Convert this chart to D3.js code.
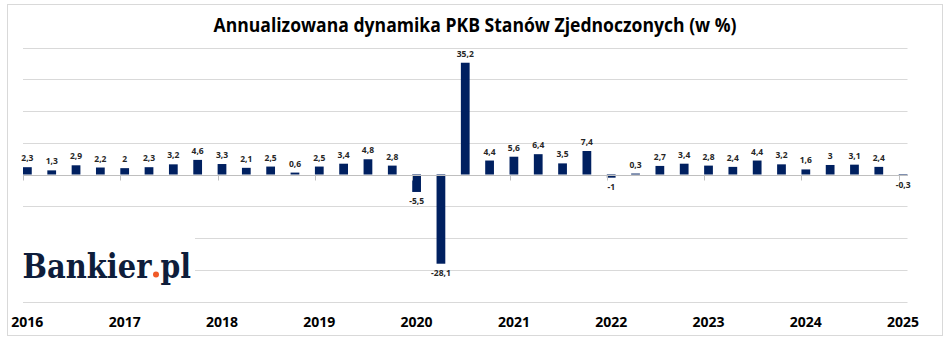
<!DOCTYPE html>
<html><head><meta charset="utf-8">
<script src="https://cdn.jsdelivr.net/npm/d3@7"></script>
<style>html,body{margin:0;padding:0;background:#fff;}svg{display:block;}</style>
</head><body>
<script>
const title = "Annualizowana dynamika PKB Stanów Zjednoczonych (w %)";
const years = ["2016","2017","2018","2019","2020","2021","2022","2023","2024","2025"];
const quarterNames = ["Q1","Q2","Q3","Q4"];
const values = [2.3,1.3,2.9,2.2, 2,2.3,3.2,4.6, 3.3,2.1,2.5,0.6, 2.5,3.4,4.8,2.8,
                -5.5,-28.1,35.2,4.4, 5.6,6.4,3.5,7.4, -1,0.3,2.7,3.4, 2.8,2.4,4.4,3.2,
                1.6,3,3.1,2.4, -0.3];
const gridTicks = [-40,-30,-20,-10,10,20,30,40];
const categories = values.map((v,i)=> years[Math.floor(i/4)] + " " + quarterNames[i%4]);

const W = 948, H = 344;
const svg = d3.select("body").append("svg").attr("width",W).attr("height",H);

// outer border
svg.append("rect").attr("x",7.5).attr("y",4.5).attr("width",935).attr("height",331)
  .attr("fill","#fff").attr("stroke","#d9d9d9").attr("stroke-width",1);

const x = d3.scaleBand().domain(categories).range([23,907.5]).paddingInner(0.64).paddingOuter(0);
const y = d3.scaleLinear().domain([-40,40]).range([301.5,47.5]);

// gridlines
svg.append("g").selectAll("line").data(gridTicks).join("line")
  .attr("x1",23).attr("x2",907.5)
  .attr("y1",d=>Math.round(y(d))+0.5).attr("y2",d=>Math.round(y(d))+0.5)
  .attr("stroke","#d9d9d9").attr("stroke-width",1);

// logo backdrop + logo
svg.append("rect").attr("x",15).attr("y",214).attr("width",180).attr("height",80).attr("fill","#fff");
const logoG = svg.append("g").attr("font-family","'DejaVu Serif', serif").attr("font-weight","bold")
  .attr("font-size",33.5).attr("fill","#0e1d3b");
function fitText(str, x0, base, w){
  const t = logoG.append("text").attr("x",0).attr("y",0).text(str);
  const nat = t.node().getComputedTextLength();
  t.attr("transform",`translate(${x0},${base}) scale(${w/nat},1)`);
}
fitText("Bankier", 22.5, 277.5, 129);
logoG.append("circle").attr("cx",156).attr("cy",274.5).attr("r",3).attr("fill","#f05a28");
fitText("pl", 160.5, 277.5, 30.5);

// bars
svg.append("g").selectAll("rect").data(values).join("rect")
  .attr("x",(d,i)=>x(categories[i]))
  .attr("width",x.bandwidth())
  .attr("y",d=>y(Math.max(0,d)))
  .attr("height",d=>Math.abs(y(d)-y(0)))
  .attr("fill","#002060");

// zero axis line
const y0 = Math.round(y(0))+0.5;
svg.append("line").attr("x1",23).attr("x2",907.5).attr("y1",y0).attr("y2",y0)
  .attr("stroke","#bfbfbf").attr("stroke-width",1);

// year ticks
const yearStarts = years.map((yr,k)=>categories[k*4]);
svg.append("g").selectAll("line").data(yearStarts).join("line")
  .attr("x1",d=>Math.round(x(d))+0.5).attr("x2",d=>Math.round(x(d))+0.5)
  .attr("y1",y0).attr("y2",y0+5)
  .attr("stroke","#bfbfbf").attr("stroke-width",1);

// year labels
svg.append("g").selectAll("text").data(years).join("text")
  .attr("x",(d,k)=>x(categories[k*4])+x.bandwidth()/2)
  .attr("y",326.7)
  .attr("text-anchor","middle")
  .attr("font-family","'Open Sans', sans-serif").attr("font-weight","bold")
  .attr("font-size",14).attr("fill","#000")
  .text(d=>d);

// data labels
const fmt = v => String(v).replace(".",",");
svg.append("g").selectAll("text").data(values).join("text")
  .attr("x",(d,i)=>x(categories[i])+x.bandwidth()/2)
  .attr("y",d=> d>=0 ? y(d)-6 : y(d)+12.5)
  .attr("text-anchor","middle")
  .attr("font-family","'Open Sans', sans-serif").attr("font-weight","bold")
  .attr("font-size",8.5).attr("fill","#262626")
  .text(d=>fmt(d));

// title
svg.append("text").attr("x",475).attr("y",31.7).attr("text-anchor","middle")
  .attr("font-family","'Open Sans', sans-serif").attr("font-weight","bold")
  .attr("font-size",19).attr("fill","#000")
  .attr("textLength",523).attr("lengthAdjust","spacingAndGlyphs")
  .text(title);
</script>
</body></html>
